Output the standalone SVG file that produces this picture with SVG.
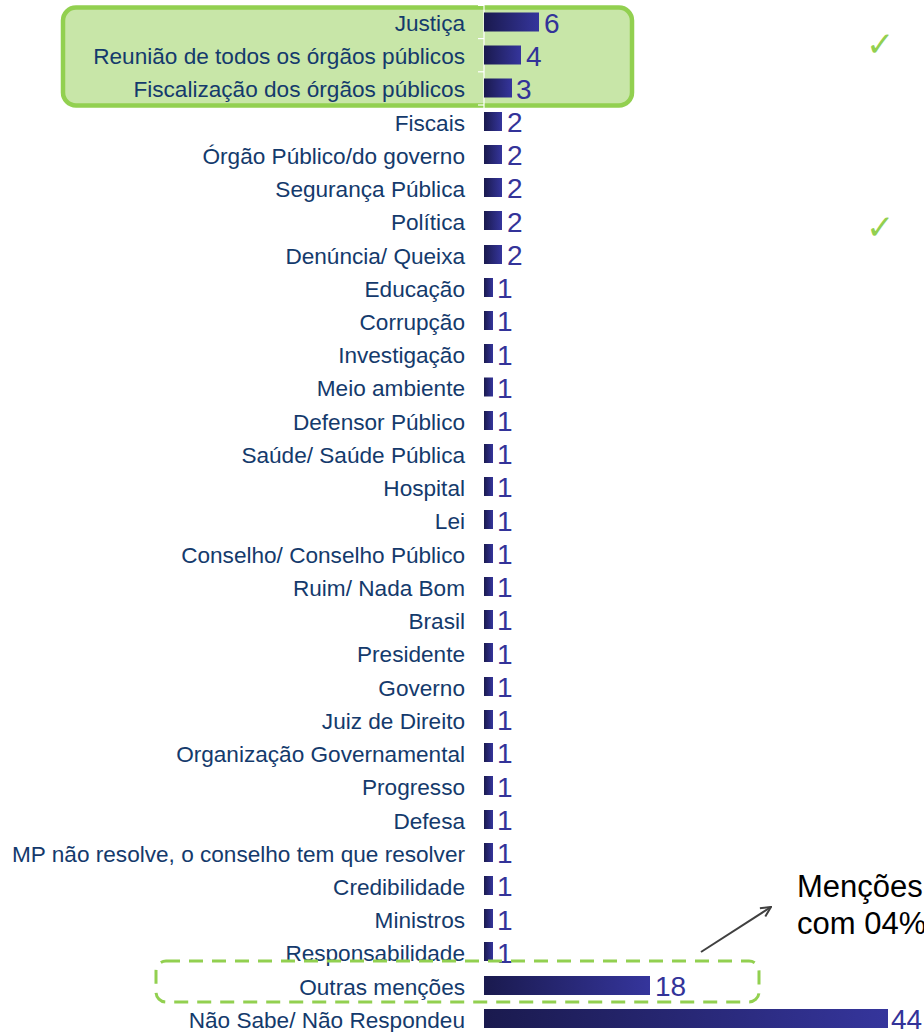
<svg xmlns="http://www.w3.org/2000/svg" width="924" height="1032" viewBox="0 0 924 1032">
<defs>
<linearGradient id="bg" x1="0" y1="0" x2="1" y2="0">
<stop offset="0" stop-color="#1a1a4e"/>
<stop offset="1" stop-color="#35359c"/>
</linearGradient>
<marker id="arr" viewBox="0 0 12 12" refX="11" refY="6" markerWidth="12" markerHeight="12" markerUnits="userSpaceOnUse" orient="auto">
<path d="M1,1 L11,6 L1,11" fill="none" stroke="#404040" stroke-width="2"/>
</marker>
</defs>
<style>
.lb{font-family:"Liberation Sans",Arial,sans-serif;font-size:22.6px;fill:#143a6c;text-anchor:end}
.vl{font-family:"Liberation Sans",Arial,sans-serif;font-size:28px;fill:#333399}
.bar{fill:url(#bg)}
.ck{font-family:"DejaVu Sans",sans-serif;font-size:34px;fill:#92d050}
.note{font-family:"Liberation Sans",Arial,sans-serif;font-size:31px;fill:#000}
</style>
<rect width="924" height="1032" fill="#fff"/>
<g id="highlight">
<rect x="63" y="7.5" width="569" height="98" rx="13" fill="#c8e6a8" stroke="#92d050" stroke-width="4.5"/>
</g>
<g id="axis" stroke="#fff" stroke-width="1.2">
<line x1="484" y1="0" x2="484" y2="1032"/>
<line x1="478" y1="5.4" x2="484" y2="5.4"/><line x1="478" y1="38.6" x2="484" y2="38.6"/><line x1="478" y1="71.8" x2="484" y2="71.8"/><line x1="478" y1="105" x2="484" y2="105"/>
</g>
<g id="rows">
<g id="r0"><text class="lb" x="465" y="31">Justiça</text><rect class="bar" x="484" y="12.5" width="55" height="19"/><text class="vl" x="544" y="33">6</text></g>
<g id="r1"><text class="lb" x="465" y="64">Reunião de todos os órgãos públicos</text><rect class="bar" x="484" y="45.5" width="37" height="19"/><text class="vl" x="526" y="66">4</text></g>
<g id="r2"><text class="lb" x="465" y="97">Fiscalização dos órgãos públicos</text><rect class="bar" x="484" y="78.5" width="28" height="19"/><text class="vl" x="516" y="99">3</text></g>
<g id="r3"><text class="lb" x="465" y="131">Fiscais</text><rect class="bar" x="484" y="112" width="18" height="19"/><text class="vl" x="507" y="132">2</text></g>
<g id="r4"><text class="lb" x="465" y="164">Órgão Público/do governo</text><rect class="bar" x="484" y="145" width="18" height="19"/><text class="vl" x="507" y="165">2</text></g>
<g id="r5"><text class="lb" x="465" y="197">Segurança Pública</text><rect class="bar" x="484" y="178" width="18" height="19"/><text class="vl" x="507" y="198">2</text></g>
<g id="r6"><text class="lb" x="465" y="230">Política</text><rect class="bar" x="484" y="211" width="18" height="19"/><text class="vl" x="507" y="232">2</text></g>
<g id="r7"><text class="lb" x="465" y="264">Denúncia/ Queixa</text><rect class="bar" x="484" y="245" width="18" height="19"/><text class="vl" x="507" y="265">2</text></g>
<g id="r8"><text class="lb" x="465" y="297">Educação</text><rect class="bar" x="484" y="278" width="9" height="19"/><text class="vl" x="497" y="298">1</text></g>
<g id="r9"><text class="lb" x="465" y="330">Corrupção</text><rect class="bar" x="484" y="311" width="9" height="19"/><text class="vl" x="497" y="331">1</text></g>
<g id="r10"><text class="lb" x="465" y="363">Investigação</text><rect class="bar" x="484" y="344" width="9" height="19"/><text class="vl" x="497" y="365">1</text></g>
<g id="r11"><text class="lb" x="465" y="396">Meio ambiente</text><rect class="bar" x="484" y="377.5" width="9" height="19"/><text class="vl" x="497" y="398">1</text></g>
<g id="r12"><text class="lb" x="465" y="430">Defensor Público</text><rect class="bar" x="484" y="411" width="9" height="19"/><text class="vl" x="497" y="431">1</text></g>
<g id="r13"><text class="lb" x="465" y="463">Saúde/ Saúde Pública</text><rect class="bar" x="484" y="444" width="9" height="19"/><text class="vl" x="497" y="464">1</text></g>
<g id="r14"><text class="lb" x="465" y="496">Hospital</text><rect class="bar" x="484" y="477" width="9" height="19"/><text class="vl" x="497" y="497">1</text></g>
<g id="r15"><text class="lb" x="465" y="529">Lei</text><rect class="bar" x="484" y="510" width="9" height="19"/><text class="vl" x="497" y="531">1</text></g>
<g id="r16"><text class="lb" x="465" y="563">Conselho/ Conselho Público</text><rect class="bar" x="484" y="544" width="9" height="19"/><text class="vl" x="497" y="564">1</text></g>
<g id="r17"><text class="lb" x="465" y="596">Ruim/ Nada Bom</text><rect class="bar" x="484" y="577" width="9" height="19"/><text class="vl" x="497" y="597">1</text></g>
<g id="r18"><text class="lb" x="465" y="629">Brasil</text><rect class="bar" x="484" y="610" width="9" height="19"/><text class="vl" x="497" y="630">1</text></g>
<g id="r19"><text class="lb" x="465" y="662">Presidente</text><rect class="bar" x="484" y="643" width="9" height="19"/><text class="vl" x="497" y="664">1</text></g>
<g id="r20"><text class="lb" x="465" y="696">Governo</text><rect class="bar" x="484" y="677" width="9" height="19"/><text class="vl" x="497" y="697">1</text></g>
<g id="r21"><text class="lb" x="465" y="729">Juiz de Direito</text><rect class="bar" x="484" y="710" width="9" height="19"/><text class="vl" x="497" y="730">1</text></g>
<g id="r22"><text class="lb" x="465" y="762">Organização Governamental</text><rect class="bar" x="484" y="743" width="9" height="19"/><text class="vl" x="497" y="763">1</text></g>
<g id="r23"><text class="lb" x="465" y="795">Progresso</text><rect class="bar" x="484" y="776" width="9" height="19"/><text class="vl" x="497" y="797">1</text></g>
<g id="r24"><text class="lb" x="465" y="829">Defesa</text><rect class="bar" x="484" y="810" width="9" height="19"/><text class="vl" x="497" y="830">1</text></g>
<g id="r25"><text class="lb" x="465" y="862">MP não resolve, o conselho tem que resolver</text><rect class="bar" x="484" y="843" width="9" height="19"/><text class="vl" x="497" y="863">1</text></g>
<g id="r26"><text class="lb" x="465" y="895">Credibilidade</text><rect class="bar" x="484" y="876" width="9" height="19"/><text class="vl" x="497" y="896">1</text></g>
<g id="r27"><text class="lb" x="465" y="928">Ministros</text><rect class="bar" x="484" y="909" width="9" height="19"/><text class="vl" x="497" y="930">1</text></g>
<g id="r28"><text class="lb" x="465" y="961">Responsabilidade</text><rect class="bar" x="484" y="942" width="9" height="19"/><text class="vl" x="497" y="963">1</text></g>
<g id="r29"><text class="lb" x="465" y="995">Outras menções</text><rect class="bar" x="484" y="976" width="166" height="19"/><text class="vl" x="655" y="996">18</text></g>
<g id="r30"><text class="lb" x="465" y="1028">Não Sabe/ Não Respondeu</text><rect class="bar" x="484" y="1009" width="404" height="19"/><text class="vl" x="891" y="1029">44</text></g>
</g>
<g id="others-box">
<rect x="156" y="961" width="603" height="41" rx="10" fill="none" stroke="#92d050" stroke-width="3" stroke-dasharray="14,9"/>
</g>
<g id="checks">
<text class="ck" x="866" y="56">✓</text>
<text class="ck" x="866" y="239">✓</text>
</g>
<g id="connectors">
<line x1="701" y1="952" x2="771" y2="907" stroke="#404040" stroke-width="2" marker-end="url(#arr)"/>
</g>
<g id="note">
<text class="note" x="797" y="897">Menções</text>
<text class="note" x="797" y="934">com 04%</text>
</g>
</svg>
